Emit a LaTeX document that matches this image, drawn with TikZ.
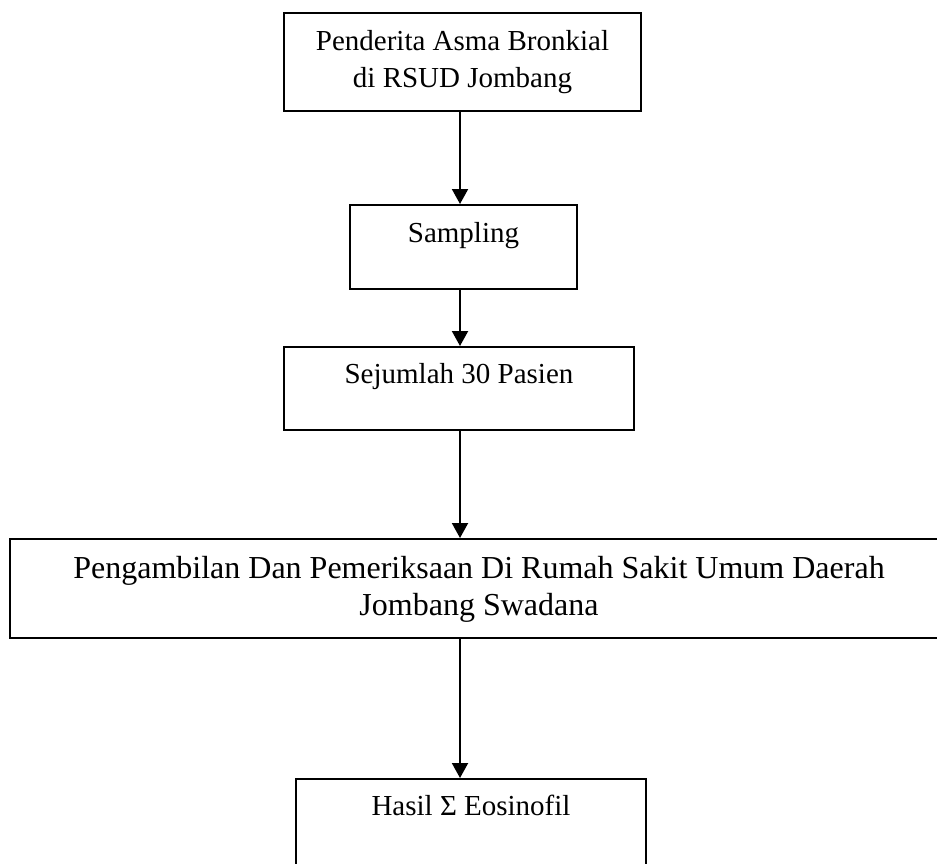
\documentclass[tikz,border=0pt]{standalone}
\usepackage{fontspec}
\setmainfont{Liberation Serif}
\usepackage{tikz}
\usetikzlibrary{arrows.meta, positioning}
\tikzset{
    kotak/.style={draw, line width=1.8pt, inner sep=0pt, align=center,
        font=\fontsize{29}{37}\selectfont},
    panah/.style={-{Triangle[length=15pt, width=16pt]}, line width=2pt}
}

\begin{document}
\begin{tikzpicture}[x=1pt, y=-1pt]
    \clip (0,0) rectangle (937,863);
    \coordinate (spine) at (460,0);
    \node[kotak, anchor=north, minimum width=357pt, text height=75pt, text depth=23pt] (pend) at (462.5,12) {Penderita Asma Bronkial\\di RSUD Jombang};
    \node[kotak, anchor=north, minimum width=227pt, text height=38pt, text depth=46pt] (samp) at (463.5,204) {Sampling};
    \node[kotak, anchor=north, minimum width=350pt, text height=37pt, text depth=46pt] (jml) at (459,346) {Sejumlah 30 Pasien};
    \node[kotak, anchor=north, minimum width=938pt, text height=77pt, text depth=22pt,
        font=\fontsize{32}{37}\selectfont] (ambil) at (479,538) {Pengambilan Dan Pemeriksaan Di Rumah Sakit Umum Daerah\\Jombang Swadana};
    \node[kotak, anchor=north, minimum width=350pt, text height=37pt, text depth=70pt] (hasil) at (471,778) {Hasil Σ Eosinofil};
    % alur
    \draw[panah] (spine |- pend.south) -- (spine |- samp.north);
    \draw[panah] (spine |- samp.south) -- (spine |- jml.north);
    \draw[panah] (spine |- jml.south) -- (spine |- ambil.north);
    \draw[panah] (spine |- ambil.south) -- (spine |- hasil.north);
\end{tikzpicture}
\end{document}
